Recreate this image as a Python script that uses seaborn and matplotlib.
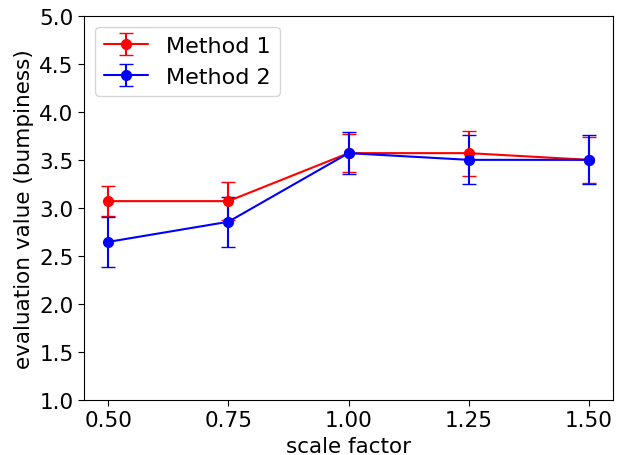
import matplotlib
matplotlib.use('Agg')
import matplotlib.pyplot as plt
import seaborn as sns

# Data
scale_factor = [0.50, 0.75, 1.00, 1.25, 1.50]
method1_mean = [3.07, 3.07, 3.57, 3.57, 3.50]
method1_err = [0.16, 0.20, 0.20, 0.235, 0.24]
method2_mean = [2.645, 2.855, 3.57, 3.50, 3.50]
method2_err = [0.26, 0.26, 0.215, 0.255, 0.255]
y_ticks = [1.0, 1.5, 2.0, 2.5, 3.0, 3.5, 4.0, 4.5, 5.0]

sns.set_style('ticks', {'axes.edgecolor': 'black', 'text.color': 'black',
                        'xtick.color': 'black', 'ytick.color': 'black',
                        'axes.labelcolor': 'black'})
plt.rcParams['font.family'] = ['DejaVu Sans']

fig = plt.figure(figsize=(6.18, 4.56), dpi=100)
ax = fig.add_axes([0.136, 0.121, 0.856, 0.842])

ax.errorbar(scale_factor, method1_mean, yerr=method1_err, fmt='-o', color='red',
            capsize=5, markersize=7, linewidth=1.5, label='Method 1')
ax.errorbar(scale_factor, method2_mean, yerr=method2_err, fmt='-o', color='blue',
            capsize=5, markersize=7, linewidth=1.5, label='Method 2')

ax.set_ylim(1.0, 5.0)
ax.set_xticks(scale_factor)
ax.set_xticklabels([f'{v:.2f}' for v in scale_factor])
ax.set_yticks(y_ticks)
ax.set_yticklabels([f'{v:.1f}' for v in y_ticks])
ax.tick_params(labelsize=15.5, direction='out', length=4)
ax.set_xlabel('scale factor', fontsize=15.5)
ax.set_ylabel('evaluation value (bumpiness)', fontsize=15.5)
ax.legend(loc='upper left', fontsize=16)

fig.savefig('out.png', dpi=100)
